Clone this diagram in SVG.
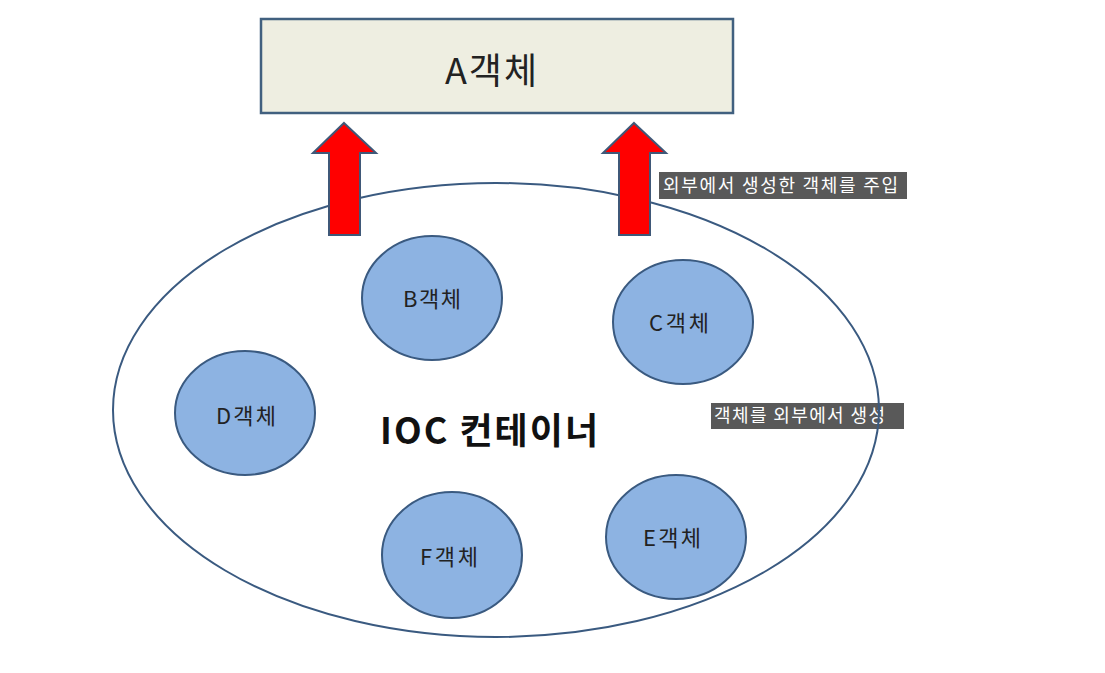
<svg xmlns="http://www.w3.org/2000/svg" width="1105" height="673" viewBox="0 0 1105 673">
<style>
.node{fill:#8db3e2;stroke:#3a5a80;stroke-width:2}
.lbl{font-family:"Noto Sans CJK KR","Noto Sans",sans-serif;font-size:22px;fill:#222;text-anchor:middle}
.arrow{fill:#ff0000;stroke:#3f5878;stroke-width:2;stroke-linejoin:miter}
.note{fill:#595959}
.notet{font-family:"Noto Sans CJK KR",sans-serif;font-size:18px;fill:#ffffff}
</style>
<rect width="1105" height="673" fill="#ffffff"/>
<g id="A">
<rect x="261" y="19" width="472" height="94" fill="#eeeee1" stroke="#41607f" stroke-width="2.5"/>
<text x="491" y="84" font-family="Noto Sans CJK KR,sans-serif" font-size="36" fill="#222" text-anchor="middle" textLength="92">A객체</text>
</g>
<g id="note1">
<rect class="note" x="659" y="172" width="248" height="27"/>
<text class="notet" x="663" y="192" textLength="235">외부에서 생성한 객체를 주입</text>
</g>
<g id="note2">
<rect class="note" x="711" y="403" width="193" height="26"/>
<text class="notet" x="714" y="422" textLength="171">객체를 외부에서 생성</text>
</g>
<g id="ioc">
<ellipse cx="496" cy="410" rx="383" ry="227" fill="none" stroke="#3a5a80" stroke-width="2"/>
<text x="489" y="444" font-family="Noto Sans CJK KR,sans-serif" font-size="36" font-weight="bold" fill="#111" text-anchor="middle" textLength="218">IOC 컨테이너</text>
</g>
<g id="connectors">
<polygon class="arrow" points="344,123 376,153 360,153 360,235 329,235 329,153 313,153"/>
<polygon class="arrow" points="634,123 666,153 650,153 650,235 619,235 619,153 603,153"/>
</g>
<g id="B"><ellipse class="node" cx="432" cy="298" rx="70" ry="62"/><text class="lbl" x="432" y="307" textLength="58">B객체</text></g>
<g id="C"><ellipse class="node" cx="683" cy="322" rx="70" ry="62"/><text class="lbl" x="679" y="331" textLength="60">C객체</text></g>
<g id="D"><ellipse class="node" cx="245" cy="413" rx="70" ry="62"/><text class="lbl" x="246" y="424" textLength="60">D객체</text></g>
<g id="F"><ellipse class="node" cx="452" cy="555" rx="70" ry="63"/><text class="lbl" x="449" y="565" textLength="58">F객체</text></g>
<g id="E"><ellipse class="node" cx="676" cy="537" rx="70" ry="62"/><text class="lbl" x="672" y="546" textLength="58">E객체</text></g>
</svg>
